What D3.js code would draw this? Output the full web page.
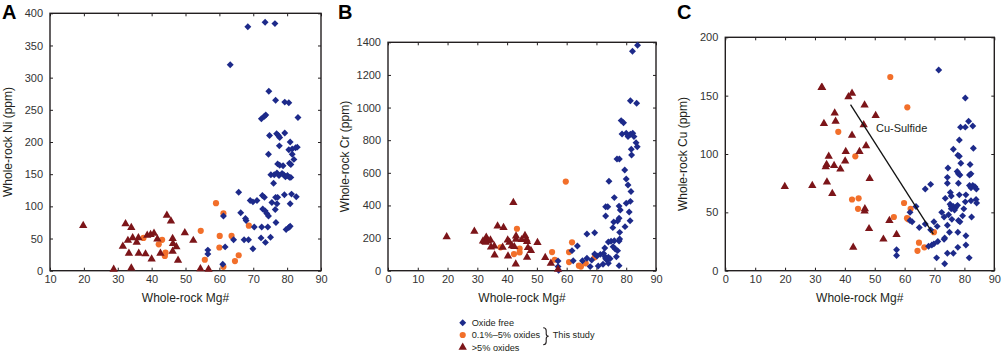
<!DOCTYPE html>
<html>
<head>
<meta charset="utf-8">
<script src="https://cdn.jsdelivr.net/npm/d3@7"></script>
<style>
  body { margin: 0; background: #fff; }
  svg { font-family: "Liberation Sans", Arial, sans-serif; }
  .axis text { font-size: 11px; fill: #333; }
  .axis path { display: none; }
  .axis line { stroke: #231f20; stroke-width: 1; }
</style>
</head>
<body>
<svg id="chart" width="1005" height="353"></svg>
<script>
// ---- data: [Mg#, ppm] ----

// Panel A: Ni
const niOxideFree = [[68.4,379],[73.5,386],[76.4,384],[63.2,320],[74.6,279],[76.6,265],[79.3,262],[80.5,261],[83.2,238],
  [72.4,236],[73.3,240],[73.7,242],[74.8,210],[76.9,213],[77.4,210],[77.8,207],[79.3,214],[80.9,200],[74.5,181],[77.7,194],
  [80.5,188],[81.5,189],[82.5,191],[83,192],[81.5,181],[82,173],[80.7,167],[81.1,165],[75.2,149],[77.2,166],[77.8,164],
  [78.8,163],[76.2,149],[77,152],[77.6,148],[78.5,151],[79,149],[79.5,146],[80.1,148],[80.7,145],[81.1,145],[76,136],
  [65.7,122],[72.7,117],[73.3,114],[76.6,114],[77.2,114],[79.2,118],[81.3,119],[82.7,115],[69.1,109],[69.9,107],[71.1,109],
  [75.5,106],[77,104],[76.5,95],[80.9,104],[66.3,90],[72.8,96],[73.5,93],[74,89],[74.5,85],[67.7,81],[67.9,78],[61.2,85],
  [70.3,68],[72.5,68],[74.3,68],[76.7,75],[79.7,64],[80.5,67],[80.9,69],[67.3,48],[68.6,48],[64.2,48],[72.3,51],[75.1,52],
  [73.6,44],[69.9,34],[61.7,37],[56.6,32],[56.6,26],[61,10]];
const niLowOxide = [[59,105],[61.2,89],[54.5,62],[60.1,54],[63.6,54],[68.7,70],[60,36],[65.7,24],[55.7,17],[64.6,15],
  [61.2,6],[43.1,48],[42.1,41],[44.1,28],[43.9,23],[37.6,51]];
const niHighOxide = [[19.8,70],[32.3,73],[34,67],[31.5,38],[33,47],[34.4,51],[33.3,27],[36.1,51],[35.6,44],[36.2,27],
  [38.2,26],[38.7,55],[39.7,56],[40.7,58],[40,18],[41.7,49],[42.6,27],[44.5,86],[45.7,77],[46.2,50],[46.3,42],[46.2,30],
  [47.3,37],[47.8,16],[49.8,59],[52.3,47],[28.8,2],[34,4],[54.4,3],[56.8,2]];

// Panel B: Cr
const crOxideFree = [[83.8,1382],[82.1,1345],[81.4,1042],[83.5,1026],[78.3,920],[79.1,907],[78.6,838],[80,842],[80.6,822],
  [81.4,836],[82.2,842],[82.6,822],[83.3,785],[83.7,760],[81.7,744],[81.8,709],[76.9,685],[77.7,685],[79.5,617],[80,562],
  [80.6,525],[81.6,486],[74.2,548],[76,448],[80,413],[81.4,425],[73.1,392],[73.8,392],[77.6,396],[78,372],[81,360],
  [73.1,335],[75.8,298],[75.5,264],[77.6,321],[77.1,304],[79.6,270],[81.3,306],[77.8,235],[77.6,182],[77.8,194],
  [66.8,225],[69.4,233],[63.6,151],[72.8,139],[75.6,147],[74,176],[74.9,180],[76,184],[76.3,133],[77.1,123],[76.7,86],
  [72.4,106],[72.9,86],[73.5,65],[74,82],[74.6,74],[73.1,74],[74,45],[77.6,31],[66.8,76],[68.4,65],[70.2,90],[71.3,100],
  [72.2,39],[69.4,102],[61.8,123],[62.2,61],[65.3,61],[67.9,25],[70.6,29],[57.1,59],[57.1,25],[57.3,3]];
const crLowOxide = [[59.7,546],[43.3,257],[61.8,174],[55.1,114],[60.8,114],[44.2,135],[44.2,112],[42.3,102],[56,67],
  [60.8,53],[64.1,31],[64.8,25],[66.4,45],[69.4,82],[37.8,143]];
const crHighOxide = [[19.7,208],[29,241],[36.8,274],[38.8,264],[42.1,417],[33,204],[32.5,178],[33.6,182],[34.4,188],
  [31.9,182],[32.8,174],[35.7,151],[34.6,145],[38.5,143],[40.2,188],[40.8,174],[41.6,153],[42.4,147],[43,192],[43,212],
  [44.9,190],[46,215],[46.5,192],[46.7,178],[47,141],[48,123],[46.7,82],[50.2,172],[35.8,96],[40.3,90],[42.9,41],
  [52.8,80],[54.7,45],[57.1,8]];

// Panel C: Cu
const cuOxideFree = [[71.4,172],[80.3,148],[81.4,128],[78.7,123],[80.3,123],[82.8,124],[78.3,112],[76.3,104],[83,105],
  [77.8,99],[78.3,98],[78.8,92],[81.9,91],[74.5,88],[74.3,80],[77.6,85],[78,83],[78.5,82],[81.7,82],[82.2,83],[82.8,73],
  [83.5,72],[84,70],[81.7,73],[82.2,71],[66.9,70],[68.7,74],[75.3,67],[75.6,64],[78.3,65],[80.5,65],[78,75],[74.3,75],
  [73.6,62],[80.3,59],[82.2,60],[83.9,61],[84.1,58],[75.2,57],[75.6,55],[76.3,55],[77,54],[77.7,56],[75.6,53],[76.7,52],
  [79.8,53],[72.4,50],[73.2,46],[74.7,48],[78,43],[78.5,42],[79.4,47],[82.4,46],[75.8,44],[74.3,39],[63.8,55],[61.8,50],
  [61.8,43],[62.5,42],[64.9,37],[66.9,40],[69.8,42],[70.9,38],[68.7,35],[68,21],[69.1,22],[69.8,23],[71.1,25],[73.2,27],
  [73.4,28],[75,33],[77.8,33],[80.5,30],[77.8,20],[76.3,15],[74.3,15],[80.5,22],[81.6,11],[70.7,11],[73.4,6],[57.3,18],
  [57.3,13]];
const cuLowOxide = [[55.2,166],[60.9,140],[37.8,119],[43.5,98],[42.4,61],[44.6,62],[44.4,53],[59.8,58],[56.4,46],[62,53],
  [60.8,45],[61.2,44],[64.8,24],[64.3,17],[66.6,20],[69.8,33]];
const cuHighOxide = [[19.9,72],[29.1,73],[32.2,157],[32.4,157],[33,126],[33.6,89],[33.9,91],[34.6,98],[34,76],[35.8,66],
  [36.4,90],[36.6,135],[36.9,128],[38.5,87],[40.1,94],[40.3,102],[41.2,149],[42.4,152],[42.4,116],[42.8,20],[44.9,102],
  [46.3,125],[46.6,142],[47.1,107],[46.7,53],[46.6,51],[48.3,79],[48.1,36],[50.3,133],[52.9,27],[54.9,43],[57.3,31]];
const cuSulfideLine = [[41.9,142.3],[69.6,31.4]];

// tick values
const xTicksA = [10,20,30,40,50,60,70,80,90];
const xTicksBC = [0,10,20,30,40,50,60,70,80,90];
const yTicksA = [0,50,100,150,200,250,300,350,400];
const yTicksB = [0,200,400,600,800,1000,1200,1400];
const yTicksC = [0,50,100,150,200];

const colors = { free: '#1d2a8a', low: '#f26f2a', high: '#7c1519' };
const legendItems = ['Oxide free', '0.1%\u20135% oxides', '>5% oxides'];

const svg = d3.select('#chart');
svg.append('rect').attr('width',1005).attr('height',353).attr('fill','#fff');

// symbol generators
const diamond = d3.symbol().type(d3.symbolSquare).size(24);
const circle = d3.symbol().type(d3.symbolCircle).size(30);
const triangle = d3.symbol().type(d3.symbolTriangle).size(30);

function drawPanel(p){
    const x = d3.scaleLinear(p.xDomain, [p.left, p.right]);
    const y = d3.scaleLinear(p.yDomain, [270.7, p.top]);
    const g = svg.append('g');

    // ticks on all four sides, pointing inward
    g.append('g').attr('class','axis').attr('transform',`translate(0,${y.range()[0]})`)
        .call(d3.axisBottom(x).tickValues(p.xTicks).tickSizeInner(-3).tickSizeOuter(0).tickPadding(5));
    g.append('g').attr('class','axis').attr('transform',`translate(0,${p.top})`)
        .call(d3.axisTop(x).tickValues(p.xTicks).tickSizeInner(-3).tickSizeOuter(0).tickFormat(''));
    g.append('g').attr('class','axis').attr('transform',`translate(${p.left},0)`)
        .call(d3.axisLeft(y).tickValues(p.yTicks).tickFormat(d3.format('d'))
            .tickSizeInner(-3).tickSizeOuter(0).tickPadding(7));
    g.append('g').attr('class','axis').attr('transform',`translate(${p.right},0)`)
        .call(d3.axisRight(y).tickValues(p.yTicks).tickSizeInner(-3).tickSizeOuter(0).tickFormat(''));

    // frame
    g.append('rect').attr('x',p.left).attr('y',p.top)
        .attr('width',p.right-p.left).attr('height',y.range()[0]-p.top)
        .attr('fill','none').attr('stroke','#231f20').attr('stroke-width',1.4);

    // points: orange, blue, then red on top
    g.append('g').selectAll('path').data(p.low).join('path')
        .attr('d',circle).attr('fill',colors.low)
        .attr('transform',d=>`translate(${x(d[0])},${y(d[1])})`);
    g.append('g').selectAll('path').data(p.free).join('path')
        .attr('d',diamond).attr('fill',colors.free)
        .attr('transform',d=>`translate(${x(d[0])},${y(d[1])}) rotate(45)`);
    g.append('g').selectAll('path').data(p.high).join('path')
        .attr('d',triangle).attr('fill',colors.high)
        .attr('transform',d=>`translate(${x(d[0])},${y(d[1])})`);

    // axis titles
    g.append('text').attr('x',(p.left+p.right)/2).attr('y',302)
        .attr('text-anchor','middle').style('font-size','12px').style('fill','#231f20')
        .text('Whole-rock Mg#');
    g.append('text')
        .attr('transform',`translate(${p.yLabelX},${(p.top+270.7)/2}) rotate(-90)`)
        .attr('text-anchor','middle').style('font-size','12px').style('fill','#231f20')
        .text(p.yLabel);

    // panel letter
    g.append('text').attr('x',p.letterX).attr('y',19)
        .style('font-size','20px').style('font-weight','bold').style('fill','#000')
        .text(p.letter);

    return {x, y, g};
}

drawPanel({letter:'A', letterX:2, left:50, right:321, top:13.3, xDomain:[10,90], yDomain:[0,400],
    xTicks:xTicksA, yTicks:yTicksA, yLabel:'Whole-rock Ni (ppm)', yLabelX:12,
    free:niOxideFree, low:niLowOxide, high:niHighOxide});

drawPanel({letter:'B', letterX:338, left:388, right:656, top:42.3, xDomain:[0,90], yDomain:[0,1400],
    xTicks:xTicksBC, yTicks:yTicksB, yLabel:'Whole-rock Cr (ppm)', yLabelX:349,
    free:crOxideFree, low:crLowOxide, high:crHighOxide});

const pc = drawPanel({letter:'C', letterX:677, left:725.3, right:994.3, top:37.3, xDomain:[0,90], yDomain:[0,200],
    xTicks:xTicksBC, yTicks:yTicksC, yLabel:'Whole-rock Cu (ppm)', yLabelX:687,
    free:cuOxideFree, low:cuLowOxide, high:cuHighOxide});

// Cu-sulfide trend
pc.g.append('path').datum(cuSulfideLine)
    .attr('d', d3.line().x(d=>pc.x(d[0])).y(d=>pc.y(d[1])))
    .attr('stroke','#111').attr('stroke-width',1.3).attr('fill','none');
pc.g.append('text').attr('x',pc.x(50.4)).attr('y',pc.y(122.6)+4)
    .style('font-size','11px').style('fill','#231f20').text('Cu-Sulfide');

// legend
const legend = svg.append('g').attr('transform','translate(462.7,322.7)');
const legendSymbols = [
    {d:diamond, c:colors.free, r:45},
    {d:circle, c:colors.low, r:0},
    {d:triangle, c:colors.high, r:0}
];
legendItems.forEach((t,i)=>{
    const s = legendSymbols[i];
    legend.append('path').attr('d',s.d).attr('fill',s.c)
        .attr('transform',`translate(0,${i*12.3}) rotate(${s.r})`);
    legend.append('text').attr('x',9).attr('y',i*12.3+3.3)
        .style('font-size','9.2px').style('fill','#231f20').text(t);
});
// brace
legend.append('path')
    .attr('d','M80.5,5 q3,0 3,3 v3 q0,2.5 2.5,2.5 q-2.5,0 -2.5,2.5 v3 q0,3 -3,3')
    .attr('fill','none').attr('stroke','#231f20').attr('stroke-width',1.1);
legend.append('text').attr('x',90).attr('y',15.6).style('font-size','9.2px').style('fill','#231f20').text('This study');
</script>
</body>
</html>
